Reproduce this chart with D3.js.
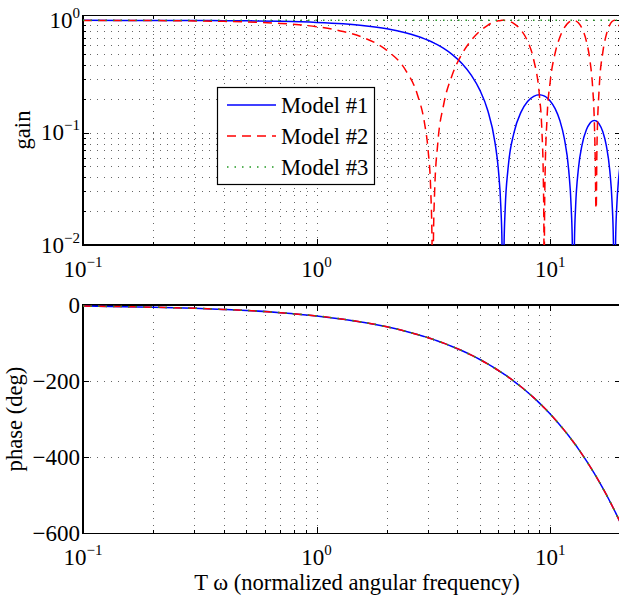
<!DOCTYPE html>
<html>
<head>
<meta charset="utf-8">
<script src="https://cdn.jsdelivr.net/npm/d3@7"></script>
<style>
  body { margin: 0; background: #fff; }
  svg { display: block; font-family: "Liberation Serif", "Times New Roman", serif; }
</style>
</head>
<body>
<div id="chart"></div>
<script>
// frequency samples (T*omega) shared by all models
const freq = [
  0.1, 0.15, 0.2, 0.3, 0.4, 0.5, 0.7, 1.0, 1.3, 1.6,
  2.0, 2.4, 2.7, 2.9, 3.0, 3.08, 3.12, 3.14, 3.16, 3.2,
  3.3, 3.5, 3.8, 4.2, 4.6, 5.0, 5.4, 5.8, 6.0, 6.15,
  6.22, 6.28, 6.34, 6.42, 6.6, 7.0, 7.5, 8.0, 8.5, 9.0,
  9.2, 9.35, 9.4, 9.425, 9.45, 9.5, 9.7, 10, 10.5, 11,
  11.5, 12, 12.3, 12.44, 12.57, 12.7, 12.85, 13.2, 13.7, 14.3,
  14.8, 15.2, 15.45, 15.6, 15.7, 15.75, 15.85, 16.2, 16.8, 17.4,
  18.0, 18.4, 18.65, 18.85, 19.05, 19.3, 19.6, 20
];
const gain1 = [
  0.9996, 0.9991, 0.9983, 0.9963, 0.9933, 0.9896, 0.9797, 0.9589, 0.9311, 0.8967,
  0.8415, 0.7767, 0.7228, 0.6846, 0.6650, 0.6490, 0.6410, 0.6369, 0.6329, 0.6247,
  0.6042, 0.5623, 0.4981, 0.4111, 0.3242, 0.2394, 0.1583, 0.0825, 0.0470, 0.0216,
  0.0102, 0.0005, 0.0090, 0.0213, 0.0478, 0.1002, 0.1524, 0.1892, 0.2106, 0.2172,
  0.2160, 0.2138, 0.2128, 0.2122, 0.2116, 0.2104, 0.2042, 0.1918, 0.1636, 0.1283,
  0.0884, 0.0466, 0.0216, 0.0102, 0.0003, 0.0105, 0.0220, 0.0472, 0.0784, 0.1066,
  0.1215, 0.1273, 0.1284, 0.1280, 0.1274, 0.1270, 0.1259, 0.1197, 0.1017, 0.0762,
  0.0458, 0.0242, 0.0107, 0.0001, 0.0105, 0.0231, 0.0374, 0.0544
];
const gain2 = [
  0.9988, 0.9972, 0.9950, 0.9888, 0.9801, 0.9689, 0.9394, 0.8776, 0.7961, 0.6967,
  0.5403, 0.3624, 0.2190, 0.1205, 0.0707, 0.0308, 0.0108, 0.0008, 0.0092, 0.0292,
  0.0791, 0.1782, 0.3233, 0.5048, 0.6663, 0.8011, 0.9041, 0.9710, 0.9900, 0.9978,
  0.9995, 1.0000, 0.9996, 0.9977, 0.9875, 0.9365, 0.8206, 0.6536, 0.4461, 0.2108,
  0.1122, 0.0374, 0.0124, 0.0001, 0.0126, 0.0376, 0.1372, 0.2837, 0.5121, 0.7087,
  0.8612, 0.9602, 0.9911, 0.9980, 1.0000, 0.9978, 0.9900, 0.9502, 0.8436, 0.6475,
  0.4385, 0.2517, 0.1281, 0.0533, 0.0210, 0.0215, 0.0710, 0.2435, 0.5193, 0.7485,
  0.9111, 0.9748, 0.9950, 1.0000, 0.9950, 0.9747, 0.9304, 0.8391
];
const gain3 = [
  1, 1, 1, 1, 1, 1, 1, 1, 1, 1,
  1, 1, 1, 1, 1, 1, 1, 1, 1, 1,
  1, 1, 1, 1, 1, 1, 1, 1, 1, 1,
  1, 1, 1, 1, 1, 1, 1, 1, 1, 1,
  1, 1, 1, 1, 1, 1, 1, 1, 1, 1,
  1, 1, 1, 1, 1, 1, 1, 1, 1, 1,
  1, 1, 1, 1, 1, 1, 1, 1, 1, 1,
  1, 1, 1, 1, 1, 1, 1, 1
];
// phase in degrees, same for the three models
const phase = [
  -2.9, -4.3, -5.7, -8.6, -11.5, -14.3, -20.1, -28.6, -37.2, -45.8,
  -57.3, -68.8, -77.3, -83.1, -85.9, -88.2, -89.4, -90.0, -90.5, -91.7,
  -94.5, -100.3, -108.9, -120.3, -131.8, -143.2, -154.7, -166.2, -171.9, -176.2,
  -178.2, -179.9, -181.6, -183.9, -189.1, -200.5, -214.9, -229.2, -243.5, -257.8,
  -263.6, -267.9, -269.3, -270.0, -270.7, -272.2, -277.9, -286.5, -300.8, -315.1,
  -329.5, -343.8, -352.4, -356.4, -360.1, -363.8, -368.1, -378.2, -392.5, -409.7,
  -424.0, -435.5, -442.6, -446.9, -449.8, -451.2, -454.1, -464.1, -481.3, -498.5,
  -515.7, -527.1, -534.3, -540.0, -545.8, -552.9, -561.5, -573.0
];

const models = ["Model #1", "Model #2", "Model #3"];
const xMajor = [0.1, 1, 10];
const xExp = ["\u22121", "0", "1"];
const gainMajor = [0.01, 0.1, 1];
const gainExp = ["\u22122", "\u22121", "0"];
const phaseMajor = [0, -200, -400, -600];
const phaseLabels = ["0", "\u2212200", "\u2212400", "\u2212600"];

const width = 619, height = 604;
const tickFont = 23, labelFont = 22.6, supFont = 15;
const styles = [
  { color: "#0000ff", dash: null },
  { color: "#ff0000", dash: "9,6" },
  { color: "#229922", dash: "1.5,6" }
];

const svg = d3.select("#chart").append("svg")
  .attr("width", width)
  .attr("height", height);

const x = d3.scaleLog().domain([0.1, 20]).range([83, 620.5]);
const xMinor = [];
xMajor.forEach(d => {
  for (let k = 2; k <= 9; k++) if (d * k <= 20.001) xMinor.push(d * k);
});

function minorLog(majors) {
  const out = [];
  majors.forEach(d => { for (let k = 2; k <= 9; k++) out.push(d * k); });
  return out;
}

function panel(id, top, bottom, y, yMajor, yMinor) {
  const g = svg.append("g");
  const h = bottom - top;

  g.append("clipPath").attr("id", id)
    .append("rect").attr("x", 83).attr("y", top).attr("width", 620.5 - 83).attr("height", h);

  // grid
  const gridX = g.append("g")
    .attr("transform", `translate(0,${bottom})`)
    .call(d3.axisBottom(x).tickValues(xMajor.concat(xMinor)).tickSize(-h).tickFormat(""));
  const gridY = g.append("g")
    .attr("transform", "translate(83,0)")
    .call(d3.axisLeft(y).tickValues(yMajor.concat(yMinor)).tickSize(-(620.5 - 83)).tickFormat(""));
  [gridX, gridY].forEach(a => {
    a.select(".domain").remove();
    a.selectAll("line")
      .attr("stroke", "#666")
      .attr("stroke-dasharray", "1,6")
      .attr("shape-rendering", "crispEdges");
  });

  // ticks on all four sides, pointing inward
  const tickAxes = [
    [d3.axisBottom(x), `translate(0,${bottom})`, xMajor, xMinor],
    [d3.axisTop(x), `translate(0,${top})`, xMajor, xMinor],
    [d3.axisLeft(y), "translate(83,0)", yMajor, yMinor],
    [d3.axisRight(y), "translate(620.5,0)", yMajor, yMinor]
  ];
  tickAxes.forEach(([ax, tr, maj, min]) => {
    [[maj, 6], [min, 3]].forEach(([vals, len]) => {
      if (!vals.length) return;
      const a = g.append("g").attr("transform", tr)
        .call(ax.tickValues(vals).tickSize(-len).tickFormat(""));
      a.select(".domain").remove();
      a.selectAll("line").attr("stroke", "#000").attr("shape-rendering", "crispEdges");
    });
  });

  g.append("rect")
    .attr("x", 83).attr("y", top)
    .attr("width", 620.5 - 83).attr("height", h)
    .attr("fill", "none").attr("stroke", "#000").attr("stroke-width", 1.2)
    .attr("shape-rendering", "crispEdges");

  // x tick labels 10^n
  g.selectAll(null).data(xMajor).join("text")
    .attr("x", d => x(d)).attr("y", bottom + 32)
    .attr("text-anchor", "middle")
    .attr("font-size", tickFont)
    .each(function(d, i) {
      const t = d3.select(this);
      t.append("tspan").text("10");
      t.append("tspan").attr("dy", -10).attr("font-size", supFont).text(xExp[i]);
    });

  return g;
}

// gain panel
const yGain = d3.scaleLog().domain([0.01, 1.1]).range([245, 15.7]);
const gTop = panel("clipTop", 15.7, 245, yGain, gainMajor, minorLog([0.01, 0.1]));

gTop.selectAll(null).data(gainMajor).join("text")
  .attr("x", 80).attr("y", d => yGain(d) + 7.5)
  .attr("text-anchor", "end")
  .attr("font-size", tickFont)
  .each(function(d, i) {
    const t = d3.select(this);
    t.append("tspan").text("10");
    t.append("tspan").attr("dy", -10).attr("font-size", supFont).text(gainExp[i]);
  });

const gains = [gain1, gain2, gain3];
gains.forEach((vals, m) => {
  gTop.append("path")
    .datum(vals)
    .attr("clip-path", "url(#clipTop)")
    .attr("fill", "none")
    .attr("stroke", styles[m].color)
    .attr("stroke-width", 1.5)
    .attr("stroke-dasharray", styles[m].dash)
    .attr("d", d3.line()
      .x((d, i) => x(freq[i]))
      .y(d => yGain(d))
      .curve(d3.curveMonotoneX));
});

svg.append("text")
  .attr("transform", "translate(30,130) rotate(-90)")
  .attr("text-anchor", "middle")
  .attr("font-size", labelFont)
  .text("gain");

// legend
const legend = gTop.append("g");
legend.append("rect")
  .attr("x", 217.5).attr("y", 87.5).attr("width", 157).attr("height", 97)
  .attr("fill", "#fff").attr("stroke", "#000").attr("stroke-width", 1.2);
models.forEach((name, m) => {
  const ly = 105 + m * 31;
  legend.append("line")
    .attr("x1", 227).attr("x2", 276).attr("y1", ly).attr("y2", ly)
    .attr("stroke", styles[m].color)
    .attr("stroke-width", 1.5)
    .attr("stroke-dasharray", styles[m].dash);
  legend.append("text")
    .attr("x", 281).attr("y", ly + 7.5)
    .attr("font-size", labelFont)
    .text(name);
});

// phase panel
const yPhase = d3.scaleLinear().domain([-600, 0]).range([533.3, 305]);
const gBot = panel("clipBot", 305, 533.3, yPhase, phaseMajor, []);

gBot.selectAll(null).data(phaseMajor).join("text")
  .attr("x", 80).attr("y", d => yPhase(d) + 7.5)
  .attr("text-anchor", "end")
  .attr("font-size", tickFont)
  .text((d, i) => phaseLabels[i]);

gains.forEach((vals, m) => {
  gBot.append("path")
    .datum(phase)
    .attr("clip-path", "url(#clipBot)")
    .attr("fill", "none")
    .attr("stroke", styles[m].color)
    .attr("stroke-width", 1.5)
    .attr("stroke-dasharray", styles[m].dash)
    .attr("d", d3.line()
      .x((d, i) => x(freq[i]))
      .y(d => yPhase(d))
      .curve(d3.curveMonotoneX));
});

svg.append("text")
  .attr("transform", "translate(22,419) rotate(-90)")
  .attr("text-anchor", "middle")
  .attr("font-size", labelFont)
  .text("phase (deg)");

svg.append("text")
  .attr("x", 357).attr("y", 590)
  .attr("text-anchor", "middle")
  .attr("font-size", labelFont)
  .text("T \u03c9 (normalized angular frequency)");
</script>
</body>
</html>
